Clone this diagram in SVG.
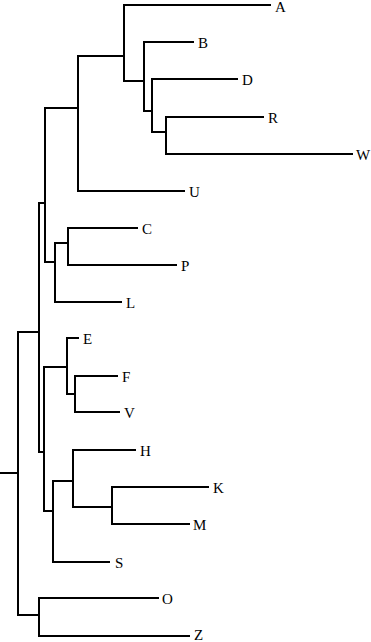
<svg xmlns="http://www.w3.org/2000/svg" width="371" height="642" viewBox="0 0 371 642">
<style>
.e{fill:none;stroke:#000;stroke-width:2;stroke-linecap:square}
text{font-family:"Liberation Serif","Times New Roman",serif;font-size:15px;fill:#000}
</style>
<rect width="371" height="642" fill="#fff"/>
<g id="connectors" class="e">
<path d="M0,473H18M18,332V615M18,332H39M18,615H39"/>
<path d="M39,598V636M39,598H158M39,636H189"/>
<path d="M39,203V452M39,203H45M39,452H44"/>
<path d="M45,108V262M45,108H78M45,262H55"/>
<path d="M78,56V191M78,56H124M78,191H184"/>
<path d="M124,5V81M124,5H270M124,81H144"/>
<path d="M144,42V111M144,42H193M144,111H152"/>
<path d="M152,79V132M152,79H237M152,132H166"/>
<path d="M166,117V154M166,117H263M166,154H352"/>
<path d="M55,243V302M55,243H68M55,302H121"/>
<path d="M68,228V265M68,228H137M68,265H176"/>
<path d="M44,367V511M44,367H67M44,511H53"/>
<path d="M67,338V394M67,338H78M67,394H75"/>
<path d="M75,376V412M75,376H117M75,412H119"/>
<path d="M53,481V562M53,481H73M53,562H109"/>
<path d="M73,450V507M73,450H135M73,507H112"/>
<path d="M112,487V524M112,487H208M112,524H189"/>
</g>
<g id="A"><text x="275" y="12">A</text></g>
<g id="B"><text x="198" y="48">B</text></g>
<g id="D"><text x="242" y="85">D</text></g>
<g id="R"><text x="268" y="123">R</text></g>
<g id="W"><text x="356" y="160">W</text></g>
<g id="U"><text x="189" y="197">U</text></g>
<g id="C"><text x="142" y="234">C</text></g>
<g id="P"><text x="181" y="271">P</text></g>
<g id="L"><text x="126" y="308">L</text></g>
<g id="E"><text x="83" y="344">E</text></g>
<g id="F"><text x="122" y="382">F</text></g>
<g id="V"><text x="124" y="418">V</text></g>
<g id="H"><text x="140" y="456">H</text></g>
<g id="K"><text x="213" y="493">K</text></g>
<g id="M"><text x="193" y="530">M</text></g>
<g id="S"><text x="115" y="568">S</text></g>
<g id="O"><text x="162" y="604">O</text></g>
<g id="Z"><text x="194" y="640">Z</text></g>
</svg>
